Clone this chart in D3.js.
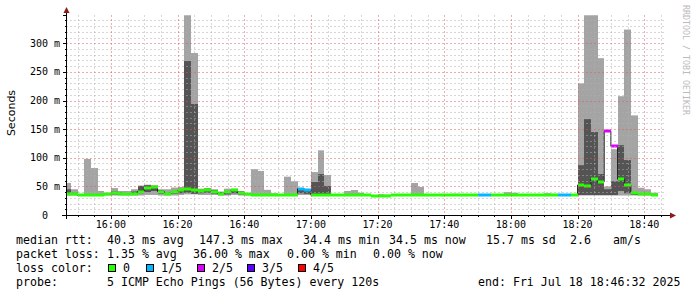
<!DOCTYPE html>
<html lang="en">
<head>
<meta charset="utf-8">
<title>Smokeping latency</title>
<script src="https://cdn.jsdelivr.net/npm/d3@7"></script>
<style>
  body { margin: 0; background: #fff; }
  text { font-family: "DejaVu Sans Mono", monospace; fill: #000; }
</style>
</head>
<body>
<script>
var w = 697, h = 297;

// 2 minute steps starting 15:46 (Jul 18 2025), 5 pings each
var stepMinutes = 2;
var firstStep = new Date(2025, 6, 18, 15, 46, 0);

// sorted ping rtts per step, in ms
var minRtt = [34,34,34,34,34,34,34,34,34,34,34,34,35,35,34,34,34,35,36,36,
              35,35,35,34,34,35,34,34,34,34,34,34,34,34,34,35,35,34,34,34,
              34,34,34,34,34,34,33.5,33.5,33.5,34,34,34,34,34,34,34,34,34,34,34,
              34,34,34,34,34,34,34,34,34,34,34,34,34,34,34,34,34,34,34,34,
              34,34,34,34,34,34,34,34,34];
var p2Rtt  = [35,35,34.5,34.5,34.5,34.5,35,36,35,35,36,38,40,42,37,35,37,38,39,37,
              38,39,37,35,36,38,36,35,34.5,34.5,34.5,34.5,34.5,34.5,34.5,38,37,34.5,34.5,34.5,
              34.5,34.5,34.5,34.5,34.5,34.5,34,34,34,34.5,34.5,34.5,35,35,35,34.5,34.5,34.5,34.5,34.5,
              34.5,34.5,34.5,34.5,34.5,34.5,34.5,34.5,34.5,34.5,34.5,34.5,34.5,34.5,34.5,34.5,34.5,35,35,35,
              35,35,35,42,38,35,35,35,34.5];
var medRtt = [37,37,34.5,34.5,34.5,35,36,39,37,37,37,41,47,49,41,37,40,43,45,44,
              42,44,41,37,40,43,39,36,35,35,34.5,34.5,34.5,34.5,34.5,46,43,34.5,34.5,34.5,
              34.5,34.5,34.5,34.5,34.5,34.5,34,34,34,34.5,34.5,34.5,35.5,35.5,35.5,34.5,34.5,34.5,34.5,34.5,
              34.5,34.5,34.5,34.5,34.5,34.5,34.5,34.5,34.5,34.5,34.5,34.5,34.5,34.5,34.5,34.5,34.5,52.5,50,62.5,
              58,146.5,120,62.5,52,38.4,36,36,35];
var p4Rtt  = [45,39,35,35,35,36,38,41,39,38,41,51,52,50,43,39,42,45,269,194,
              44,46,43,40,42,44,41,37,36,36,35,35,35,35,35,47,44,57.6,71.5,50.6,
              35,35,35,35,35,35,34.5,35.5,35,35,35,35,36,36,36,35,35,35,35,35,
              35,35,35,35,35,35,35,35,35,35,35,35,35,35,35,35,35,87,167.5,145,
              71.5,45,59,122,96,40,37,37,36];
var maxRtt = [56,45,35.5,98,82,42,39,47,42,42,45,51,53,52,45,45,48,49,349,283,
              46,47,45,41,46,46,42,38,80,77,44,38,35,67,59,47,44,75,113,70,
              35,35,42,43.6,39,35,34.5,35.5,35.5,35,35,35,56,49,36,35,35,35,37,35,
              35,35,35,35,35,35,40,39,35,35,35,35,38,37,35,35,35,230,349,349,
              274,50,115,207.6,324,174,47.6,45,39];
// lost pings out of 5
var lossCount = [0,0,0,0,0,0,0,0,0,0,0,0,0,0,0,0,0,0,0,0,
                 0,0,0,0,0,0,0,0,0,0,0,0,0,0,0,1,1,0,0,0,
                 0,0,0,0,0,0,0,0,0,0,0,0,0,0,0,0,0,0,0,0,
                 0,0,1,1,0,0,0,0,0,0,0,0,0,0,1,1,0,0,0,0,
                 0,2,2,0,0,0,0,0,0];

var lossLabels = ["0", "1/5", "2/5", "3/5", "4/5"];
var lossColors = ["#26ff00", "#00b8ff", "#dd00ff", "#5e00ff", "#ff0000"];
var yTicks = [0, 50, 100, 150, 200, 250, 300];

var tStart = new Date(2025, 6, 18, 15, 46, 32);
var tEnd = new Date(2025, 6, 18, 18, 46, 32);

var x0 = 66, x1 = 666, yBottom = 215, yTop = 14.7;

var svg = d3.select("body").append("svg")
    .attr("width", w)
    .attr("height", h)
    .style("display", "block");

svg.append("rect").attr("width", w).attr("height", h).attr("fill", "#fff");

var x = d3.scaleTime().domain([tStart, tEnd]).range([x0, x1]);
var y = d3.scaleLinear().domain([0, 350]).range([yBottom, yTop]);

var steps = medRtt.map(function(m, i) {
    return {
        t0: d3.timeMinute.offset(firstStep, i * stepMinutes),
        t1: d3.timeMinute.offset(firstStep, (i + 1) * stepMinutes),
        min: minRtt[i], p2: p2Rtt[i], med: m, p4: p4Rtt[i], max: maxRtt[i],
        loss: lossCount[i]
    };
});

svg.append("clipPath").attr("id", "plot")
  .append("rect")
    .attr("x", x0).attr("y", yTop)
    .attr("width", x1 - x0).attr("height", yBottom - yTop);

var plot = svg.append("g").attr("clip-path", "url(#plot)");

// smoke: outer pings light, inner pings dark
plot.selectAll("rect.light")
    .data(steps)
    .enter()
    .append("rect")
    .attr("class", "light")
    .attr("x", function(d) { return Math.round(x(d.t0)); })
    .attr("width", function(d) { return Math.round(x(d.t1)) - Math.round(x(d.t0)); })
    .attr("y", function(d) { return y(d.max); })
    .attr("height", function(d) { return y(d.min) - y(d.max); })
    .attr("fill", "#a4a4a4");

plot.selectAll("rect.dark")
    .data(steps)
    .enter()
    .append("rect")
    .attr("class", "dark")
    .attr("x", function(d) { return Math.round(x(d.t0)); })
    .attr("width", function(d) { return Math.round(x(d.t1)) - Math.round(x(d.t0)); })
    .attr("y", function(d) { return y(d.p4); })
    .attr("height", function(d) { return Math.max(0, y(d.p2) - y(d.p4)); })
    .attr("fill", "#545454");

// grid, drawn over the smoke like rrdtool does
var minorTimes = x.ticks(d3.timeMinute.every(5));
var majorTimes = x.ticks(d3.timeMinute.every(20));
var minorVals = d3.range(10, 351, 10);
var minorCol = "rgba(175,175,175,0.5)";
var majorCol = "rgba(225,90,90,0.5)";

var grid = svg.append("g").attr("shape-rendering", "crispEdges");
grid.selectAll("line.hmin")
    .data(minorVals.filter(function(v) { return v % 50 != 0; }))
    .enter().append("line")
    .attr("x1", x0).attr("x2", x1)
    .attr("y1", function(d) { return Math.round(y(d)) + 0.5; })
    .attr("y2", function(d) { return Math.round(y(d)) + 0.5; })
    .attr("stroke", minorCol)
    .attr("stroke-dasharray", "2,2");
grid.selectAll("line.vmin")
    .data(minorTimes.filter(function(t) { return t.getMinutes() % 20 != 0; }))
    .enter().append("line")
    .attr("y1", yTop).attr("y2", yBottom)
    .attr("x1", function(d) { return Math.round(x(d)) + 0.5; })
    .attr("x2", function(d) { return Math.round(x(d)) + 0.5; })
    .attr("stroke", minorCol)
    .attr("stroke-dasharray", "2,2");
grid.selectAll("line.hmaj")
    .data(yTicks.filter(function(v) { return v > 0; }))
    .enter().append("line")
    .attr("x1", x0).attr("x2", x1)
    .attr("y1", function(d) { return Math.round(y(d)) + 0.5; })
    .attr("y2", function(d) { return Math.round(y(d)) + 0.5; })
    .attr("stroke", majorCol)
    .attr("stroke-dasharray", "2,2");
grid.selectAll("line.vmaj")
    .data(majorTimes)
    .enter().append("line")
    .attr("y1", yTop).attr("y2", yBottom)
    .attr("x1", function(d) { return Math.round(x(d)) + 0.5; })
    .attr("x2", function(d) { return Math.round(x(d)) + 0.5; })
    .attr("stroke", majorCol)
    .attr("stroke-dasharray", "2,2");

// median line, black steps then loss coloured band
var medPts = [];
steps.forEach(function(d) {
    medPts.push([x(d.t0), y(d.med)]);
    medPts.push([x(d.t1), y(d.med)]);
});
plot.append("path")
    .attr("d", d3.line()(medPts))
    .attr("fill", "none")
    .attr("stroke", "#202020")
    .attr("stroke-width", 1);

plot.selectAll("rect.med")
    .data(steps)
    .enter()
    .append("rect")
    .attr("class", "med")
    .attr("x", function(d) { return Math.round(x(d.t0)); })
    .attr("width", function(d) { return Math.round(x(d.t1)) - Math.round(x(d.t0)); })
    .attr("y", function(d) { return Math.round(y(d.med)) - 1.5; })
    .attr("height", 3)
    .attr("fill", function(d) { return lossColors[d.loss]; });

// axes
var axes = svg.append("g").attr("shape-rendering", "crispEdges");
axes.append("line")
    .attr("x1", 62).attr("x2", 671)
    .attr("y1", yBottom + 0.5).attr("y2", yBottom + 0.5)
    .attr("stroke", "#000");
axes.append("line")
    .attr("x1", x0 + 0.5).attr("x2", x0 + 0.5)
    .attr("y1", 11).attr("y2", yBottom + 4)
    .attr("stroke", "#000");
axes.selectAll("line.ytick")
    .data(d3.range(0, 351, 10))
    .enter().append("line")
    .attr("x1", function(d) { return d % 50 == 0 ? x0 - 3 : x0 - 1; })
    .attr("x2", x0)
    .attr("y1", function(d) { return Math.round(y(d)) + 0.5; })
    .attr("y2", function(d) { return Math.round(y(d)) + 0.5; })
    .attr("stroke", "#000");
axes.selectAll("line.xtick")
    .data(minorTimes)
    .enter().append("line")
    .attr("y1", yBottom + 1)
    .attr("y2", function(d) { return d.getMinutes() % 20 == 0 ? yBottom + 4 : yBottom + 2; })
    .attr("x1", function(d) { return Math.round(x(d)) + 0.5; })
    .attr("x2", function(d) { return Math.round(x(d)) + 0.5; })
    .attr("stroke", "#000");

svg.append("path")
    .attr("d", "M" + (x0 + 0.5) + ",7 L" + (x0 + 3.5) + ",13 L" + (x0 - 2.5) + ",13 Z")
    .attr("fill", "#8b1a1a");
svg.append("path")
    .attr("d", "M676," + (yBottom + 0.5) + " L670," + (yBottom - 2.5) + " L670," + (yBottom + 3.5) + " Z")
    .attr("fill", "#8b1a1a");

// tick labels
var fmt = d3.timeFormat("%H:%M");
svg.selectAll("text.xlab")
    .data(majorTimes)
    .enter().append("text")
    .attr("x", function(d) { return x(d); })
    .attr("y", 228)
    .attr("text-anchor", "middle")
    .attr("font-size", 10)
    .text(function(d) { return fmt(d); });

svg.selectAll("text.ynum")
    .data(yTicks)
    .enter().append("text")
    .attr("x", 48)
    .attr("y", function(d) { return y(d) + 3.5; })
    .attr("text-anchor", "end")
    .attr("font-size", 10)
    .text(function(d) { return d; });
svg.selectAll("text.yunit")
    .data(yTicks.filter(function(v) { return v > 0; }))
    .enter().append("text")
    .attr("x", 54)
    .attr("y", function(d) { return y(d) + 3.5; })
    .attr("font-size", 10)
    .text("m");

svg.append("text")
    .attr("transform", "translate(15,113) rotate(-90)")
    .attr("text-anchor", "middle")
    .attr("font-size", 11)
    .style("font-family", "'DejaVu Sans', sans-serif")
    .text("Seconds");

svg.append("text")
    .attr("transform", "translate(683,5) rotate(90)")
    .attr("font-size", 8.3)
    .style("fill", "#bbbbbb")
    .text("RRDTOOL / TOBI OETIKER");

// legend lines
var legend = [
    [16, 244, "median rtt:"], [107, 244, "40.3 ms avg"], [199, 244, "147.3 ms max"],
    [303, 244, "34.4 ms min"], [389, 244, "34.5 ms now"], [486, 244, "15.7 ms sd"],
    [570, 244, "2.6"], [613, 244, "am/s"],
    [16, 257.7, "packet loss:"], [107, 257.7, "1.35 % avg"], [193, 257.7, "36.00 % max"],
    [287, 257.7, "0.00 % min"], [373, 257.7, "0.00 % now"],
    [16, 271.6, "loss color:"],
    [16, 285.6, "probe:"], [107, 285.6, "5 ICMP Echo Pings (56 Bytes) every 120s"],
    [478, 285.6, "end: Fri Jul 18 18:46:32 2025"]
];
svg.selectAll("text.leg")
    .data(legend)
    .enter().append("text")
    .attr("x", function(d) { return d[0]; })
    .attr("y", function(d) { return d[1]; })
    .attr("font-size", 11.6)
    .text(function(d) { return d[2]; });

var boxX = [108, 146, 197, 247, 298];
var keys = svg.selectAll("g.key")
    .data(lossLabels)
    .enter().append("g")
    .attr("transform", function(d, i) { return "translate(" + boxX[i] + ",264)"; });
keys.append("rect")
    .attr("x", 0.5).attr("y", 0.5)
    .attr("width", 7).attr("height", 7)
    .attr("fill", function(d, i) { return lossColors[i]; })
    .attr("stroke", "#000")
    .attr("shape-rendering", "crispEdges");
keys.append("text")
    .attr("x", 15)
    .attr("y", 7.6)
    .attr("font-size", 11.6)
    .text(function(d) { return d; });
</script>
</body>
</html>
